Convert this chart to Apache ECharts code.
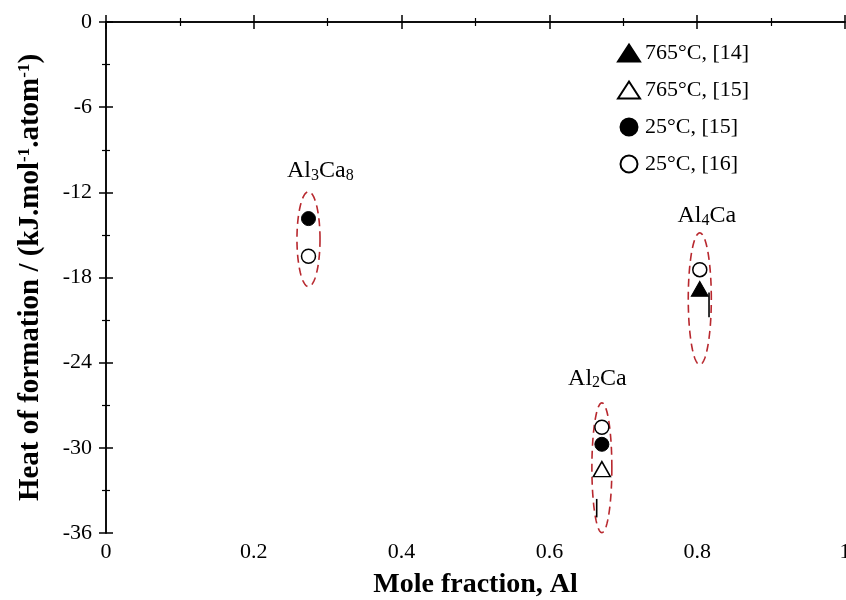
<!DOCTYPE html>
<html><head><meta charset="utf-8">
<script src="https://cdn.jsdelivr.net/npm/echarts@6/dist/echarts.min.js"></script>
<style>html,body{margin:0;padding:0;background:#fff;overflow:hidden}#c{width:846px;height:600px}</style>
</head><body><div id="c"></div>
<script>
// ---- data ----
const xTicks = [0, 0.2, 0.4, 0.6, 0.8, 1];
const yTicks = [0, -6, -12, -18, -24, -30, -36];
const seriesNames = ['765°C, [14]', '765°C, [15]', '25°C, [15]', '25°C, [16]'];
const tri765_14 = [[0.8035, -18.8]];
const tri765_15 = [[0.671, -31.5]];
const circ25_15 = [[0.274, -13.85], [0.671, -29.75]];
const circ25_16 = [[0.274, -16.5], [0.671, -28.55], [0.8035, -17.45]];
// vertical black segments: [x, yTop, yBottom]
const segments = [[0.664, -33.6, -34.9], [0.816, -19.06, -20.8]];
// dashed ellipses: [cx, cy, rx, ry]
const ellipses = [[0.274, -15.3, 0.0156, 3.34], [0.671, -31.4, 0.0135, 4.57], [0.8035, -19.5, 0.0156, 4.64]];
// compound labels: [x, y, name]
const compoundLabels = [[0.29, -10.48, 'Al3Ca8'], [0.665, -25.1, 'Al2Ca'], [0.813, -13.64, 'Al4Ca']];

const FONT = 'Liberation Serif';
const chart = echarts.init(document.getElementById('c'));

function axisCommon(show) {
  return {
    axisLine: { show: true, lineStyle: { color: '#000', width: 1.5 } },
    axisTick: { show: true, inside: true, length: 7, lineStyle: { color: '#000', width: 1.5 } },
    minorTick: { show: true, splitNumber: 2, length: 4, lineStyle: { color: '#000', width: 1.2 } },
    splitLine: { show: false },
    axisLabel: { show: show, color: '#000', fontFamily: FONT, fontSize: 22 }
  };
}

const labelRich = {
  n: { fontFamily: FONT, fontSize: 24, color: '#000' },
  s: { fontFamily: FONT, fontSize: 16, color: '#000', padding: [10, 0, 0, 0] }
};
function fmtCompound(name) {
  return name.replace(/([A-Za-z]+)(\d*)/g, (m, el, num) => '{n|' + el + '}' + (num ? '{s|' + num + '}' : ''));
}

const option = {
  animation: false,
  backgroundColor: '#fff',
  textStyle: { fontFamily: FONT },
  grid: { left: 106, right: 1, top: 22, bottom: 67, containLabel: false, outerBoundsMode: 'none' },
  legend: {
    data: seriesNames,
    orient: 'vertical',
    left: 612, top: 37,
    itemWidth: 22, itemHeight: 17, itemGap: 15,
    textStyle: { fontFamily: FONT, fontSize: 22, color: '#000', lineHeight: 22 }
  },
  xAxis: [
    Object.assign({
      type: 'value', min: 0, max: 1, interval: 0.2, position: 'bottom',
      name: 'Mole fraction, Al', nameLocation: 'middle', nameGap: 38,
      nameTextStyle: { fontFamily: FONT, fontSize: 28, fontWeight: 'bold', color: '#000' }
    }, axisCommon(true), { axisLabel: { color: '#000', fontFamily: FONT, fontSize: 22, margin: 8, formatter: v => String(+v.toFixed(1)) } }),
    Object.assign({ type: 'value', min: 0, max: 1, interval: 0.2, position: 'top' }, axisCommon(false))
  ],
  yAxis: [
    Object.assign({
      type: 'value', min: -36, max: 0, interval: 6, position: 'left',
      name: '{b|Heat of formation / (kJ.mol}{u|-1}{b|.atom}{u|-1}{b|)}',
      nameLocation: 'middle', nameGap: 60,
      nameTextStyle: {
        rich: {
          b: { fontFamily: FONT, fontSize: 29, fontWeight: 'bold', color: '#000' },
          u: { fontFamily: FONT, fontSize: 17, fontWeight: 'bold', color: '#000', padding: [0, 0, 13, 0] }
        }
      }
    }, axisCommon(true), { axisLabel: { color: '#000', fontFamily: FONT, fontSize: 22, margin: 14 } }),
    Object.assign({ type: 'value', min: -36, max: 0, interval: 6, position: 'right' }, axisCommon(false))
  ],
  series: [
    {
      type: 'custom', name: 'ellipses', z: 1, silent: true,
      data: ellipses,
      renderItem: function (params, api) {
        const cx = api.value(0), cy = api.value(1), rx = api.value(2), ry = api.value(3);
        const pts = [];
        for (let i = 0; i <= 120; i++) {
          const t = i / 120 * Math.PI * 2;
          pts.push(api.coord([cx + rx * Math.cos(t), cy + ry * Math.sin(t)]));
        }
        return { type: 'polyline', shape: { points: pts },
          style: { fill: null, stroke: '#b8282e', lineWidth: 1.6, lineDash: [8, 5] } };
      }
    },
    {
      type: 'custom', name: 'segments', z: 3, silent: true,
      data: segments,
      renderItem: function (params, api) {
        const p1 = api.coord([api.value(0), api.value(1)]);
        const p2 = api.coord([api.value(0), api.value(2)]);
        return { type: 'line', shape: { x1: p1[0], y1: p1[1], x2: p2[0], y2: p2[1] },
          style: { stroke: '#000', lineWidth: 1.6 } };
      }
    },
    {
      type: 'scatter', name: 'labels', z: 4, silent: true,
      data: compoundLabels.map(d => ({ value: [d[0], d[1]], name: d[2] })),
      symbolSize: 0, itemStyle: { opacity: 1 },
      label: { show: true, position: 'inside', formatter: p => fmtCompound(p.name), rich: labelRich }
    },
    {
      type: 'scatter', name: seriesNames[0], z: 5, data: tri765_14,
      symbol: 'triangle', symbolSize: [17, 15],
      itemStyle: { color: '#000', borderColor: '#000', borderWidth: 1, opacity: 1 }
    },
    {
      type: 'scatter', name: seriesNames[1], z: 5, data: tri765_15,
      symbol: 'triangle', symbolSize: [17, 15],
      itemStyle: { color: '#fff', borderColor: '#000', borderWidth: 1.5, opacity: 1 }
    },
    {
      type: 'scatter', name: seriesNames[2], z: 6, data: circ25_15,
      symbol: 'circle', symbolSize: 14,
      itemStyle: { color: '#000', borderColor: '#000', borderWidth: 1, opacity: 1 }
    },
    {
      type: 'scatter', name: seriesNames[3], z: 5, data: circ25_16,
      symbol: 'circle', symbolSize: 14,
      itemStyle: { color: '#fff', borderColor: '#000', borderWidth: 1.5, opacity: 1 }
    }
  ]
};
chart.setOption(option);
</script>
</body></html>
